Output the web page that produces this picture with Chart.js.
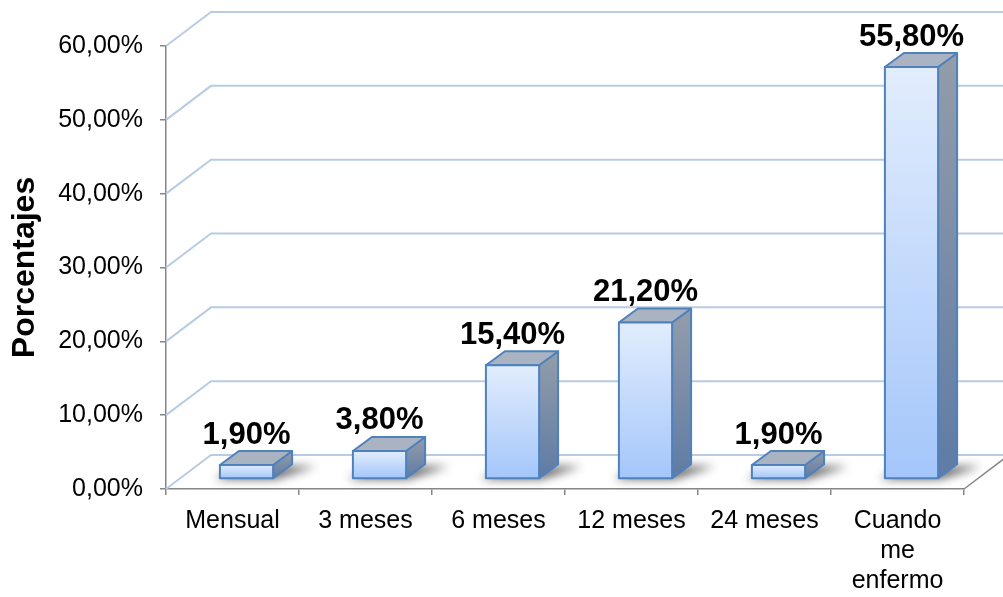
<!DOCTYPE html>
<html>
<head>
<meta charset="utf-8">
<script src="https://cdn.jsdelivr.net/npm/chart.js@4.4.1/dist/chart.umd.min.js"></script>
<style>
html,body{margin:0;padding:0;background:#fff;}
#wrap{width:1003px;height:597px;position:relative;}
</style>
</head>
<body>
<div id="wrap"><canvas id="c" width="1003" height="597"></canvas></div>
<script>
// ---- data ----
const categories = ['Mensual', '3 meses', '6 meses', '12 meses', '24 meses', ['Cuando', 'me', 'enfermo']];
const values = [1.9, 3.8, 15.4, 21.2, 1.9, 55.8];
const yMin = 0;
const yMax = 60;
const yStep = 10;
const yTitle = 'Porcentajes';

// ---- style constants ----
const FONT = '"Liberation Sans", Arial, sans-serif';
const WALL_DX = 45, WALL_DY = -34;     // depth of the 3D walls
const BAR_OX = 14, BAR_OY = -10;       // bar front-plane offset
const BAR_DX = 19, BAR_DY = -14;       // bar depth
const GRID = '#b8cce4';
const AXIS = '#868686';

const fmt = v => v.toFixed(2).replace('.', ',') + '%';

const threeD = {
  id: 'threeD',
  beforeDatasetsDraw(chart) {
    const {ctx, chartArea: {left, right, bottom}, scales: {y}} = chart;
    ctx.save();
    ctx.strokeStyle = GRID;
    ctx.lineWidth = 2;
    y.ticks.forEach(t => {
      const py = y.getPixelForValue(t.value);
      ctx.beginPath();
      ctx.moveTo(left, py);
      ctx.lineTo(left + WALL_DX, py + WALL_DY);
      ctx.lineTo(chart.width + 5, py + WALL_DY);
      ctx.stroke();
    });
    ctx.strokeStyle = AXIS;
    ctx.lineWidth = 1.5;
    ctx.beginPath();
    ctx.moveTo(right, bottom);
    ctx.lineTo(right + WALL_DX, bottom + WALL_DY);
    ctx.stroke();
    ctx.restore();
  },
  afterDatasetsDraw(chart) {
    const {ctx} = chart;
    const meta = chart.getDatasetMeta(0);
    ctx.save();
    meta.data.forEach((el, i) => {
      const p = el.getProps(['x', 'y', 'base', 'width'], true);
      const w = p.width;
      const x0 = p.x - w / 2 + BAR_OX, x1 = x0 + w;
      const yb = p.base + BAR_OY, yt = p.y + BAR_OY;
      // shadow
      ctx.save();
      ctx.filter = 'blur(5px)';
      ctx.fillStyle = 'rgba(0,0,0,0.6)';
      ctx.beginPath();
      ctx.moveTo(x0 - 5, yb + 1);
      ctx.lineTo(x1 + 2, yb + 1);
      ctx.lineTo(x1 + BAR_DX + 24, yb + BAR_DY + 2);
      ctx.lineTo(x0 + BAR_DX, yb + BAR_DY + 2);
      ctx.closePath();
      ctx.fill();
      ctx.restore();

      ctx.lineJoin = 'round';
      ctx.strokeStyle = '#4f81bd';
      ctx.lineWidth = 2;
      // side face
      let g = ctx.createLinearGradient(0, yt + BAR_DY, 0, yb);
      g.addColorStop(0, '#939daa');
      g.addColorStop(1, '#5f7ba5');
      ctx.fillStyle = g;
      ctx.beginPath();
      ctx.moveTo(x1, yt);
      ctx.lineTo(x1 + BAR_DX, yt + BAR_DY);
      ctx.lineTo(x1 + BAR_DX, yb + BAR_DY);
      ctx.lineTo(x1, yb);
      ctx.closePath();
      ctx.fill();
      ctx.stroke();
      // top face
      ctx.fillStyle = '#aab3c1';
      ctx.beginPath();
      ctx.moveTo(x0, yt);
      ctx.lineTo(x0 + BAR_DX, yt + BAR_DY);
      ctx.lineTo(x1 + BAR_DX, yt + BAR_DY);
      ctx.lineTo(x1, yt);
      ctx.closePath();
      ctx.fill();
      ctx.stroke();
      // front face
      g = ctx.createLinearGradient(0, yt, 0, yb);
      g.addColorStop(0, '#e2edfd');
      g.addColorStop(1, '#a4c6fa');
      ctx.fillStyle = g;
      ctx.beginPath();
      ctx.rect(x0, yt, w, yb - yt);
      ctx.fill();
      ctx.stroke();
      // data label
      ctx.fillStyle = '#000';
      ctx.font = 'bold 31px ' + FONT;
      ctx.textAlign = 'center';
      ctx.textBaseline = 'middle';
      ctx.fillText(fmt(values[i]), x0 + w / 2, yt - 30);
    });
    ctx.restore();
  }
};

Chart.defaults.font.family = FONT;
Chart.defaults.color = '#000';

new Chart(document.getElementById('c'), {
  type: 'bar',
  data: {
    labels: categories,
    datasets: [{
      data: values,
      backgroundColor: 'rgba(0,0,0,0)',
      borderWidth: 0,
      barPercentage: 0.4,
      categoryPercentage: 1.0
    }]
  },
  options: {
    responsive: false,
    animation: false,
    devicePixelRatio: 1,
    layout: {padding: {top: 46, right: 39, left: 0, bottom: 0}},
    plugins: {legend: {display: false}, tooltip: {enabled: false}},
    scales: {
      x: {
        grid: {display: true, drawOnChartArea: false, drawTicks: true, tickLength: 6, color: AXIS, lineWidth: 1.5, offset: true},
        border: {display: true, color: AXIS, width: 1.5},
        ticks: {font: {size: 25, lineHeight: 1.2}, color: '#000', padding: 11, maxRotation: 0, minRotation: 0, autoSkip: false},
        afterFit(scale) { scale.height = 108; }
      },
      y: {
        min: yMin, max: yMax,
        grid: {display: true, drawOnChartArea: false, drawTicks: true, tickLength: 6, color: AXIS, lineWidth: 1.5},
        border: {display: true, color: AXIS, width: 1.5},
        ticks: {stepSize: yStep, font: {size: 25}, color: '#000', padding: 17, callback: v => fmt(v)},
        title: {display: true, text: yTitle, font: {size: 32, weight: 'bold'}, color: '#000', padding: {top: 6, bottom: 0}},
        afterFit(scale) { scale.width = 166; }
      }
    }
  },
  plugins: [threeD]
});
</script>
</body>
</html>
